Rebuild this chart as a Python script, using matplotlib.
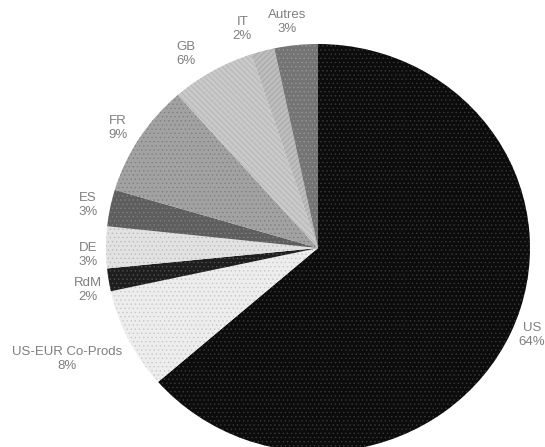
import numpy as np
import matplotlib.pyplot as plt

plt.rcParams['font.family'] = ['Liberation Sans', 'DejaVu Sans']
plt.rcParams['hatch.linewidth'] = 0.5

labels = ["US", "US-EUR Co-Prods", "RdM", "DE", "ES", "FR", "GB", "IT", "Autres"]
# shares in % (labels show them rounded)
shares = [63.6, 8.0, 1.8, 3.3, 2.9, 8.9, 6.4, 1.8, 3.3]

faces = ["#0c0c0c", "#ededed", "#1e1e1e", "#e2e2e2", "#5e5e5e",
         "#a2a2a2", "#c9c9c9", "#bdbdbd", "#747474"]
hatch_cols = ["#3a3a3a", "#c8c8c8", "#505050", "#bcbcbc", "#7e7e7e",
              "#808080", "#b0b0b0", "#a0a0a0", "#959595"]
hatches = ["....", "....", "....", "....", "....", "....", "\\\\\\\\\\\\", "//////", "...."]
# label placement (Excel "best fit" look): radial distance and angle nudge
label_dist = [1.096, 1.303, 1.104, 1.086, 1.105, 1.112, 1.137, 1.132, 1.118]
label_shift = [1.6, -1.9, 1.7, 2.0, 0.3, 0.7, 3.3, 3.3, 1.6]

W, H = 545, 447
cx, cy = 318, 248      # pie centre in pixels
rx, ry = 212, 204      # the pie is slightly squashed vertically

fig = plt.figure(figsize=(W / 100, H / 100), dpi=100)
ax = fig.add_axes([0, 0, 1, 1])

wedges, texts = ax.pie(shares, startangle=90, counterclock=False,
                       colors=faces, labels=None, radius=1,
                       wedgeprops=dict(linewidth=0))
for w, hc, h in zip(wedges, hatch_cols, hatches):
    w.set_hatch(h)
    w.set_edgecolor(hc)
    w.set_linewidth(0)

total = sum(shares)
cum = np.cumsum([0] + shares[:-1])
for lab, s, c0, d, sh in zip(labels, shares, cum, label_dist, label_shift):
    ang = np.deg2rad(90 - (c0 + s / 2) / total * 360 + sh)
    ax.text(d * np.cos(ang), d * np.sin(ang), f"{lab}\n{round(s)}%",
            ha="center", va="center", color="#7f7f7f", fontsize=9.5,
            linespacing=1.25)

ax.set_xlim(-cx / rx, (W - cx) / rx)
ax.set_ylim(-(H - cy) / ry, cy / ry)
ax.set_aspect("auto")
ax.axis("off")

fig.savefig("out.png", dpi=100)
